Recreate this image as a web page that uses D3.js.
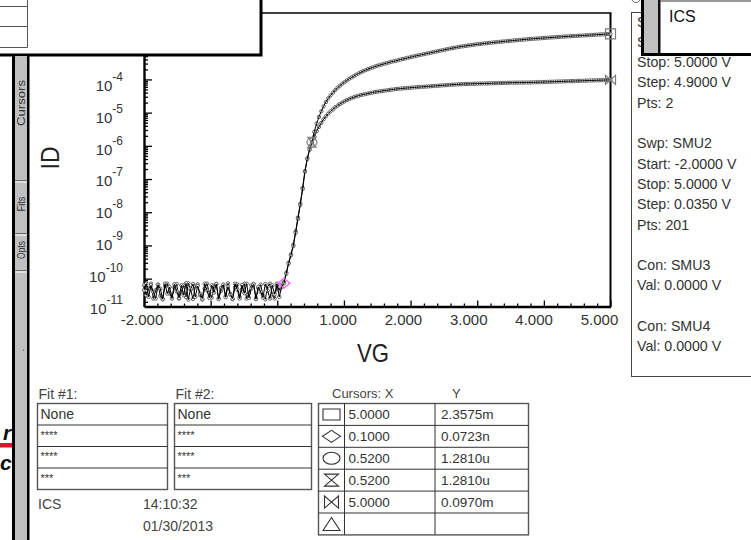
<!DOCTYPE html>
<html>
<head>
<meta charset="utf-8">
<script src="https://cdn.jsdelivr.net/npm/d3@7"></script>
<style>
html,body{margin:0;padding:0;background:#fff;}
svg{display:block;}
text{font-family:"Liberation Sans",Arial,Helvetica,sans-serif;}
</style>
</head>
<body>
<svg id="chart" width="751" height="540"></svg>
<script>
// ---------------- data ----------------
const vgStart = -2.0, vgStep = 0.035, vgPoints = 201;

// log10(ID), VD = 5.0 V (upper curve)
const log10ID_VD5 = [
-10.35,-10.15,-10.55,-10.20,-10.40,-10.60,-10.18,-10.30,-10.62,-10.15,
-10.45,-10.25,-10.60,-10.17,-10.38,-10.58,-10.20,-10.50,-10.14,-10.63,
-10.30,-10.16,-10.55,-10.22,-10.45,-10.60,-10.15,-10.35,-10.58,-10.20,
-10.42,-10.16,-10.62,-10.28,-10.18,-10.56,-10.24,-10.48,-10.60,-10.15,
-10.33,-10.60,-10.19,-10.44,-10.15,-10.58,-10.30,-10.17,-10.62,-10.25,
-10.40,-10.57,-10.16,-10.36,-10.60,-10.20,-10.47,-10.15,-10.55,-10.25,
-10.14,-9.85,-9.55,-9.30,-9.02,-8.62,-8.20,-7.78,-7.30,-6.78,-6.40,-6.12,-5.89,
-5.58,-5.33,-5.13,-4.96,-4.81,-4.68,-4.57,-4.48,-4.40,-4.32,-4.25,-4.19,-4.13,-4.08,
-4.03,-3.98,-3.94,-3.90,-3.86,-3.82,-3.785,-3.75,
-3.72,-3.69,-3.665,-3.64,-3.615,-3.59,-3.57,-3.55,-3.53,-3.51,-3.49,-3.47,-3.455,-3.44,
-3.42,-3.40,-3.385,-3.37,-3.35,-3.335,-3.32,-3.30,-3.285,-3.27,-3.255,-3.24,-3.225,-3.21,-3.195,
-3.18,-3.165,-3.15,-3.135,-3.12,-3.105,-3.09,-3.075,-3.06,-3.05,-3.035,-3.02,-3.01,-3.00,
-2.99,-2.98,-2.97,-2.96,-2.95,-2.94,-2.935,-2.925,-2.915,-2.91,-2.90,-2.895,-2.885,-2.88,
-2.872,-2.865,-2.858,-2.851,-2.845,-2.838,-2.831,-2.824,-2.818,-2.811,-2.805,-2.798,-2.792,-2.786,-2.78,
-2.775,-2.77,-2.765,-2.76,-2.755,-2.75,-2.745,-2.74,-2.735,-2.73,-2.725,-2.72,-2.715,-2.71,
-2.706,-2.702,-2.698,-2.694,-2.69,-2.686,-2.682,-2.678,-2.674,-2.67,-2.666,-2.662,-2.657,-2.653,-2.649,-2.645,-2.641,-2.637,-2.632,-2.628
];

// log10(ID), VD = 0.1 V (lower curve)
const log10ID_VD01 = [
-10.20,-10.50,-10.30,-10.15,-10.60,-10.35,-10.18,-10.52,-10.62,-10.22,
-10.15,-10.45,-10.58,-10.27,-10.16,-10.60,-10.40,-10.20,-10.55,-10.14,
-10.34,-10.61,-10.23,-10.17,-10.50,-10.63,-10.30,-10.15,-10.42,-10.57,
-10.21,-10.16,-10.60,-10.37,-10.19,-10.53,-10.14,-10.46,-10.62,-10.26,
-10.17,-10.55,-10.32,-10.15,-10.60,-10.43,-10.20,-10.16,-10.58,-10.29,
-10.18,-10.51,-10.62,-10.24,-10.15,-10.48,-10.60,-10.22,-10.35,-10.18,
-10.10,-9.82,-9.52,-9.27,-8.98,-8.58,-8.16,-7.74,-7.27,-6.76,-6.38,-6.10,-5.89,
-5.72,-5.56,-5.43,-5.31,-5.20,-5.11,-5.03,-4.96,-4.90,-4.84,-4.79,-4.74,-4.70,-4.66,
-4.62,-4.59,-4.56,-4.535,-4.51,-4.49,-4.47,-4.455,
-4.44,-4.425,-4.41,-4.395,-4.38,-4.37,-4.36,-4.35,-4.34,-4.33,-4.32,-4.31,-4.30,-4.29,
-4.283,-4.276,-4.27,-4.264,-4.258,-4.252,-4.246,-4.24,-4.235,-4.23,-4.225,-4.22,-4.215,-4.21,-4.205,
-4.20,-4.195,-4.19,-4.185,-4.18,-4.175,-4.17,-4.165,-4.16,-4.156,-4.152,-4.148,-4.144,-4.14,
-4.138,-4.136,-4.134,-4.132,-4.13,-4.128,-4.126,-4.124,-4.122,-4.12,-4.118,-4.116,-4.114,-4.112,-4.11,
-4.108,-4.106,-4.104,-4.102,-4.10,-4.099,-4.098,-4.097,-4.096,-4.095,-4.094,-4.093,-4.092,-4.09,
-4.088,-4.086,-4.083,-4.081,-4.079,-4.077,-4.074,-4.072,-4.07,-4.068,-4.065,-4.063,-4.061,-4.059,-4.056,
-4.054,-4.052,-4.05,-4.047,-4.045,-4.043,-4.041,-4.038,-4.036,-4.034,-4.032,-4.029,-4.027,-4.025,-4.022,
-4.02,-4.018,-4.015,-4.013
];

const xTickValues = [-2, -1, 0, 1, 2, 3, 4, 5];
const yLabelExponents = [-11, -10, -9, -8, -7, -6, -5, -4];

const cursorShapes = ["box", "diamond", "ellipse", "hourglass", "bowtie", "triangle"];
const cursorXText  = ["5.0000", "0.1000", "0.5200", "0.5200", "5.0000", ""];
const cursorYText  = ["2.3575m", "0.0723n", "1.2810u", "1.2810u", "0.0970m", ""];
const cursorVG     = [5.0, 0.1, 0.52, 0.52, 5.0];
const cursorID     = [2.3575e-3, 7.23e-11, 1.281e-6, 1.281e-6, 9.70e-5];

// first two lines are hidden behind the "ICS" window; only their first letter shows
const sweepLines = ["S", "S", "Stop: 5.0000 V", "Step: 4.9000 V", "Pts: 2", "",
  "Swp: SMU2", "Start: -2.0000 V", "Stop: 5.0000 V", "Step: 0.0350 V", "Pts: 201", "",
  "Con: SMU3", "Val: 0.0000 V", "", "Con: SMU4", "Val: 0.0000 V"];

const fitTitles = ["Fit #1:", "Fit #2:"];
const fitRows = ["None", "****", "****", "***"];
const sideTabs = ["Cursors", "Fits", "Opts"];
const infoName = "ICS", infoTime = "14:10:32", infoDate = "01/30/2013";

// ---------------- drawing ----------------
const svg = d3.select("#chart");
const defs = svg.append("defs");
defs.append("clipPath").attr("id", "panelClip")
  .append("path").attr("d", "M632,56H760V380H632Z M632,12H641V56H632Z");
defs.append("clipPath").attr("id", "leftClip")
  .append("rect").attr("x", 0).attr("y", 0).attr("width", 12).attr("height", 540);

const vg = d3.range(vgPoints).map(i => vgStart + i * vgStep);
const seriesA = vg.map((v, i) => ({x: v, y: Math.pow(10, log10ID_VD5[i])}));
const seriesB = vg.map((v, i) => ({x: v, y: Math.pow(10, log10ID_VD01[i])}));

const x = d3.scaleLinear().domain([-2, 5]).range([144, 610.5]);
const y = d3.scaleLog().domain([1.45e-11, 1e-2]).range([306.5, 13]);
// the instrument draws its tick labels on a slightly compressed grid
const xLab = d3.scaleLinear().domain([-2, 5]).range([142, 599.5]);
const yLab = d3.scaleLinear().domain([-11, -4]).range([308, 85.5]);

const plot = svg.append("g");

// frame: top and right
plot.append("line").attr("x1", 144).attr("x2", 611.5).attr("y1", 13).attr("y2", 13)
  .attr("stroke", "#000").attr("stroke-width", 1.4);
plot.append("line").attr("x1", 610.5).attr("x2", 610.5).attr("y1", 13).attr("y2", 307)
  .attr("stroke", "#000").attr("stroke-width", 2);

// y axis (ticks inside)
const yMajor = d3.range(-10, -1).map(e => Math.pow(10, e));
const yMinor = [];
d3.range(-11, -2).forEach(e => d3.range(2, 10).forEach(m => {
  const v = m * Math.pow(10, e);
  if (v >= y.domain()[0] && v <= y.domain()[1]) yMinor.push(v);
}));
const yAxisMajor = plot.append("g").attr("transform", "translate(144,0)")
  .call(d3.axisLeft(y).tickValues(yMajor).tickSize(-8).tickSizeOuter(0).tickFormat(""));
const yAxisMinor = plot.append("g").attr("transform", "translate(144,0)")
  .call(d3.axisLeft(y).tickValues(yMinor).tickSize(-4).tickSizeOuter(0).tickFormat(""));
yAxisMinor.select(".domain").remove();
yAxisMajor.select(".domain").attr("stroke-width", 2.4);

// x axis (ticks inside)
const xMinor = d3.range(-20, 51, 2).map(k => k / 10).filter(v => Math.abs(v - Math.round(v)) > 1e-9);
const xAxisMajor = plot.append("g").attr("transform", "translate(0,306.5)")
  .call(d3.axisBottom(x).tickValues(xTickValues).tickSize(-6).tickSizeOuter(0).tickFormat(""));
const xAxisMinor = plot.append("g").attr("transform", "translate(0,306.5)")
  .call(d3.axisBottom(x).tickValues(xMinor).tickSize(-3).tickSizeOuter(0).tickFormat(""));
xAxisMinor.select(".domain").remove();
xAxisMajor.select(".domain").attr("stroke-width", 2.4);
plot.selectAll(".tick line").attr("stroke", "#000").attr("stroke-width", 1.3);

// tick labels
plot.append("g").selectAll("text").data(xTickValues).join("text")
  .attr("x", d => xLab(d)).attr("y", 324.5).attr("text-anchor", "middle")
  .attr("font-size", 15).attr("fill", "#333").text(d => d.toFixed(3));
const yl = plot.append("g").selectAll("text").data(yLabelExponents).join("text")
  .attr("x", 123).attr("y", d => yLab(d) + 5.5).attr("text-anchor", "end")
  .attr("font-size", 15).attr("fill", "#333");
yl.append("tspan").text("10");
yl.append("tspan").attr("dy", -10).attr("font-size", 12).text(d => String(d));

// axis titles
svg.append("text").attr("transform", "translate(59,158) rotate(-90)")
  .attr("text-anchor", "middle").attr("font-size", 26).attr("fill", "#222")
  .attr("textLength", 23).attr("lengthAdjust", "spacingAndGlyphs").text("ID");
svg.append("text").attr("x", 357).attr("y", 362)
  .attr("font-size", 26).attr("fill", "#222")
  .attr("textLength", 32).attr("lengthAdjust", "spacingAndGlyphs").text("VG");

// curves
const line = d3.line().x(d => x(d.x)).y(d => y(d.y));
[seriesB, seriesA].forEach(s => {
  plot.append("g").selectAll("circle").data(s).join("circle")
    .attr("cx", d => x(d.x)).attr("cy", d => y(d.y)).attr("r", 1.7)
    .attr("fill", "#fff").attr("stroke", "#555").attr("stroke-width", 0.9);
  plot.append("path").datum(s).attr("d", line)
    .attr("fill", "none").attr("stroke", "#000").attr("stroke-width", 1);
});

function shapePath(s, w, h) {
  const a = w / 2, b = h / 2;
  switch (s) {
    case "box": return `M${-a},${-b}H${a}V${b}H${-a}Z`;
    case "diamond": return `M0,${-b}L${a},0L0,${b}L${-a},0Z`;
    case "ellipse": return `M${-a},0A${a},${b} 0 1,0 ${a},0A${a},${b} 0 1,0 ${-a},0Z`;
    case "hourglass": return `M${-a},${-b}H${a}L${-a},${b}H${a}Z`;
    case "bowtie": return `M${-a},${-b}V${b}L${a},${-b}V${b}Z`;
    case "triangle": return `M${-a},${b}L0,${-b}L${a},${b}Z`;
  }
}
const plotCursorSize = {box: [10, 10], diamond: [12, 10], ellipse: [10, 8], hourglass: [8, 10], bowtie: [10, 9]};
cursorVG.forEach((v, i) => {
  const s = cursorShapes[i];
  plot.append("path").attr("transform", `translate(${x(v)},${y(cursorID[i])})`)
    .attr("d", shapePath(s, plotCursorSize[s][0], plotCursorSize[s][1]))
    .attr("fill", "none").attr("stroke", s === "diamond" ? "#ff55ff" : "#7a7a7a").attr("stroke-width", 1.2);
});

// ---------- right sweep info panel ----------
svg.append("rect").attr("x", 631.5).attr("y", 12.5).attr("width", 130).attr("height", 364)
  .attr("fill", "#fff").attr("stroke", "#444").attr("stroke-width", 1);
svg.append("g").attr("clip-path", "url(#panelClip)")
  .selectAll("text").data(sweepLines).join("text")
  .attr("x", 637).attr("y", (d, i) => 26.5 + i * 20.3)
  .attr("font-size", 14.2).attr("fill", "#333").text(d => d);
svg.append("circle").attr("cx", 636).attr("cy", -2).attr("r", 4.5)
  .attr("fill", "none").attr("stroke", "#666").attr("stroke-width", 1);

// ICS popup (top right)
svg.append("rect").attr("x", 641).attr("y", 0).attr("width", 110).attr("height", 56).attr("fill", "#000");
svg.append("rect").attr("x", 644).attr("y", 0).attr("width", 14).attr("height", 53).attr("fill", "#c0c0c0");
svg.append("rect").attr("x", 658).attr("y", 0).attr("width", 2.5).attr("height", 53).attr("fill", "#111");
svg.append("rect").attr("x", 660.5).attr("y", 0).attr("width", 91).attr("height", 53).attr("fill", "#fff");
svg.append("line").attr("x1", 660.5).attr("x2", 751).attr("y1", 1).attr("y2", 1).attr("stroke", "#333");
svg.append("text").attr("x", 669).attr("y", 21.5).attr("font-size", 16).attr("fill", "#111").text(infoName);

// top-left popup
svg.append("rect").attr("x", 0).attr("y", 0).attr("width", 262.5).attr("height", 56.5).attr("fill", "#000");
svg.append("rect").attr("x", 0).attr("y", 0).attr("width", 259.5).attr("height", 53.5).attr("fill", "#fff");
const tl = svg.append("g").attr("stroke", "#555").attr("stroke-width", 1);
tl.append("line").attr("x1", 27.5).attr("x2", 27.5).attr("y1", 0).attr("y2", 47.5);
[6.5, 26.5, 47.5].forEach(v => tl.append("line").attr("x1", 0).attr("x2", 27.5).attr("y1", v).attr("y2", v));

// logo fragments left of the sidebar
const logo = svg.append("g").attr("clip-path", "url(#leftClip)");
logo.append("text").attr("x", 3).attr("y", 440)
  .attr("font-family", "'Liberation Serif','Times New Roman',serif").attr("font-weight", "bold")
  .attr("font-style", "italic").attr("font-size", 21).attr("fill", "#111").text("r");
logo.append("rect").attr("x", 0).attr("y", 443).attr("width", 13).attr("height", 4.5).attr("fill", "#e3122e");
logo.append("text").attr("x", 0).attr("y", 470)
  .attr("font-family", "'Liberation Serif','Times New Roman',serif").attr("font-weight", "bold")
  .attr("font-style", "italic").attr("font-size", 21).attr("fill", "#111").text("ci");

// left sidebar
svg.append("rect").attr("x", 12).attr("y", 56).attr("width", 3).attr("height", 484).attr("fill", "#000");
svg.append("rect").attr("x", 15).attr("y", 56).attr("width", 12).attr("height", 484).attr("fill", "#c0c0c0");
svg.append("rect").attr("x", 27).attr("y", 56).attr("width", 2.5).attr("height", 484).attr("fill", "#000");
[180, 233, 270].forEach(v => {
  svg.append("line").attr("x1", 15).attr("x2", 27).attr("y1", v + 0.5).attr("y2", v + 0.5).attr("stroke", "#6a6a6a");
  svg.append("line").attr("x1", 15).attr("x2", 27).attr("y1", v + 2).attr("y2", v + 2).attr("stroke", "#fff");
});
const tabCenters = [103, 204, 250], tabLengths = [46, 15, 18];
sideTabs.forEach((t, i) => {
  svg.append("text").attr("transform", `translate(24.5,${tabCenters[i]}) rotate(-90)`)
    .attr("text-anchor", "middle").attr("font-size", 11).attr("fill", "#333")
    .attr("textLength", tabLengths[i]).attr("lengthAdjust", "spacingAndGlyphs").text(t);
});
svg.append("text").attr("transform", "translate(24,350) rotate(-90)")
  .attr("text-anchor", "middle").attr("font-size", 10).attr("fill", "#333").text(".");

// ---------- bottom fit tables ----------
const fitX = [37.5, 174.5], fitW = [130, 137];
const rowTops = [403.5, 425, 446.5, 468, 489.5];
fitTitles.forEach((t, k) => {
  svg.append("text").attr("x", fitX[k] + 1).attr("y", 398.5).attr("font-size", 14)
    .attr("fill", "#444").text(t);
  const g = svg.append("g");
  g.append("rect").attr("x", fitX[k]).attr("y", rowTops[0]).attr("width", fitW[k])
    .attr("height", rowTops[4] - rowTops[0]).attr("fill", "#fff").attr("stroke", "#555").attr("stroke-width", 1.4);
  [1, 2, 3].forEach(r => g.append("line").attr("x1", fitX[k]).attr("x2", fitX[k] + fitW[k])
    .attr("y1", rowTops[r]).attr("y2", rowTops[r]).attr("stroke", "#333").attr("stroke-width", 1));
  fitRows.forEach((txt, r) => {
    g.append("text").attr("x", fitX[k] + 3)
      .attr("y", r === 0 ? rowTops[0] + 15.5 : rowTops[r] + 13.5)
      .attr("font-size", r === 0 ? 14 : 11).attr("fill", "#333").text(txt);
  });
});
svg.append("text").attr("x", 38).attr("y", 509).attr("font-size", 14).attr("fill", "#444").text(infoName);
svg.append("text").attr("x", 143).attr("y", 509).attr("font-size", 14).attr("fill", "#444").text(infoTime);
svg.append("text").attr("x", 143).attr("y", 531).attr("font-size", 14).attr("fill", "#444").text(infoDate);

// ---------- cursor table ----------
svg.append("text").attr("x", 332).attr("y", 398).attr("font-size", 13).attr("fill", "#444").text("Cursors: X");
svg.append("text").attr("x", 452).attr("y", 398).attr("font-size", 13).attr("fill", "#444").text("Y");
const ct = svg.append("g");
const ctTop = 403.5, ctRow = 21.9, ctL = 318.5, ctC1 = 344.5, ctC2 = 435, ctR = 528.5;
ct.append("rect").attr("x", ctL).attr("y", ctTop).attr("width", ctR - ctL).attr("height", ctRow * 6)
  .attr("fill", "#fff").attr("stroke", "#555").attr("stroke-width", 1.4);
[ctC1, ctC2].forEach(v => ct.append("line").attr("x1", v).attr("x2", v).attr("y1", ctTop).attr("y2", ctTop + ctRow * 6)
  .attr("stroke", "#333"));
d3.range(1, 6).forEach(r => ct.append("line").attr("x1", ctL).attr("x2", ctR)
  .attr("y1", ctTop + r * ctRow).attr("y2", ctTop + r * ctRow).attr("stroke", "#333"));
const iconSize = {box: [17, 11], diamond: [18, 12], ellipse: [17, 12], hourglass: [14, 12], bowtie: [14, 12], triangle: [17, 13]};
cursorShapes.forEach((s, r) => {
  const cy = ctTop + r * ctRow + ctRow / 2;
  ct.append("path").attr("transform", `translate(331.5,${cy})`)
    .attr("d", shapePath(s, iconSize[s][0], iconSize[s][1]))
    .attr("fill", "none").attr("stroke", "#333").attr("stroke-width", 1.1);
  ct.append("text").attr("x", 348.5).attr("y", cy + 4.8).attr("font-size", 13.5).attr("fill", "#333").text(cursorXText[r]);
  ct.append("text").attr("x", 441).attr("y", cy + 4.8).attr("font-size", 13.5).attr("fill", "#333").text(cursorYText[r]);
});
</script>
</body>
</html>
